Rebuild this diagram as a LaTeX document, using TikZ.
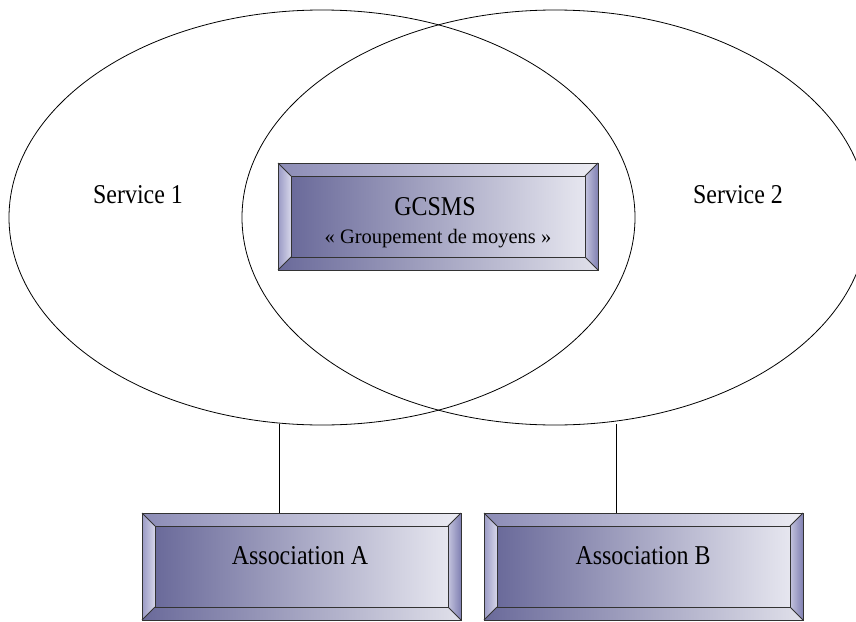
\documentclass[tikz,border=0pt]{standalone}
\usepackage{fontspec}
\setmainfont{Liberation Serif}
\newfontfamily\narrowserif[FakeStretch=0.88]{Liberation Serif}
\usetikzlibrary{shapes.geometric,calc,fit}
\definecolor{faceL}{HTML}{6A6A9A}
\definecolor{faceR}{HTML}{E6E6EF}
\definecolor{topL}{HTML}{8C8CB6}
\definecolor{topR}{HTML}{ECECF3}
\definecolor{botL}{HTML}{6A6A9A}
\definecolor{botR}{HTML}{E0E0EA}
\definecolor{lftA}{HTML}{9A9AC4}
\definecolor{lftB}{HTML}{D6D6EA}
\definecolor{rgtA}{HTML}{C4C4DE}
\definecolor{rgtB}{HTML}{8080B2}
\definecolor{edgegray}{HTML}{333333}
\tikzset{
  ring/.style={ellipse, draw=black, line width=0.8pt, minimum width=626pt, minimum height=415pt, inner sep=0pt},
  lbl/.style={font=\narrowserif\fontsize{27.2}{30}\selectfont, anchor=base, inner sep=0pt},
  sublbl/.style={font=\fontsize{20.5}{24}\selectfont, anchor=base, inner sep=0pt},
  link/.style={draw=black, line width=0.7pt},
  bevedge/.style={draw=edgegray, line width=0.9pt}
}
\newcommand\bvbox[5]{%
  \coordinate (#1-nw) at (#2,#3);
  \coordinate (#1-se) at (#4,#5);
  \node[fit=(#1-nw)(#1-se), inner sep=0pt, outer sep=0pt] (#1) {};
  \coordinate (#1-inw) at ($(#1.north west)+(13,13)$);
  \coordinate (#1-ine) at ($(#1.north east)+(-13,13)$);
  \coordinate (#1-ise) at ($(#1.south east)+(-13,-13)$);
  \coordinate (#1-isw) at ($(#1.south west)+(13,-13)$);
  \shade[left color=faceL, right color=faceR] (#1-inw) rectangle (#1-ise);
  \shade[left color=topL, right color=topR] (#1.north west) -- (#1.north east) -- (#1-ine) -- (#1-inw) -- cycle;
  \shade[left color=botL, right color=botR] (#1.south west) -- (#1.south east) -- (#1-ise) -- (#1-isw) -- cycle;
  \shade[left color=lftA, right color=lftB] (#1.north west) -- (#1-inw) -- (#1-isw) -- (#1.south west) -- cycle;
  \shade[left color=rgtA, right color=rgtB] (#1.north east) -- (#1-ine) -- (#1-ise) -- (#1.south east) -- cycle;
  \draw[bevedge] (#1.north west) rectangle (#1.south east);
  \draw[bevedge] (#1-inw) rectangle (#1-ise);
  \draw[bevedge] (#1.north west) -- (#1-inw);
  \draw[bevedge] (#1.north east) -- (#1-ine);
  \draw[bevedge] (#1.south east) -- (#1-ise);
  \draw[bevedge] (#1.south west) -- (#1-isw);
}
\begin{document}
\begin{tikzpicture}[x=1pt,y=-1pt]
\useasboundingbox (0,0) rectangle (856,621);
\clip (0,0) rectangle (856,621);
\node[ring] (s1) at (322,217.5) {};
\node[ring] (s2) at (555,217.5) {};
\node[lbl] (t1) at (138,203) {Service 1};
\node[lbl] (t2) at (738,203) {Service 2};
\bvbox{g}{278}{163}{598}{270}
\bvbox{a}{142}{513}{461}{620}
\bvbox{b}{484}{513}{803}{620}
\node[lbl] (gt) at (435,215) {GCSMS};
\node[sublbl] (gs) at (438,243) {«~Groupement de moyens~»};
\node[lbl] (at) at (300,564) {Association A};
\node[lbl] (bt) at (643,564) {Association B};
\coordinate (la) at (279,424);
\coordinate (lb) at (616,424);
\draw[link] (la) -- (a.north -| la);
\draw[link] (lb) -- (b.north -| lb);
\end{tikzpicture}
\end{document}
